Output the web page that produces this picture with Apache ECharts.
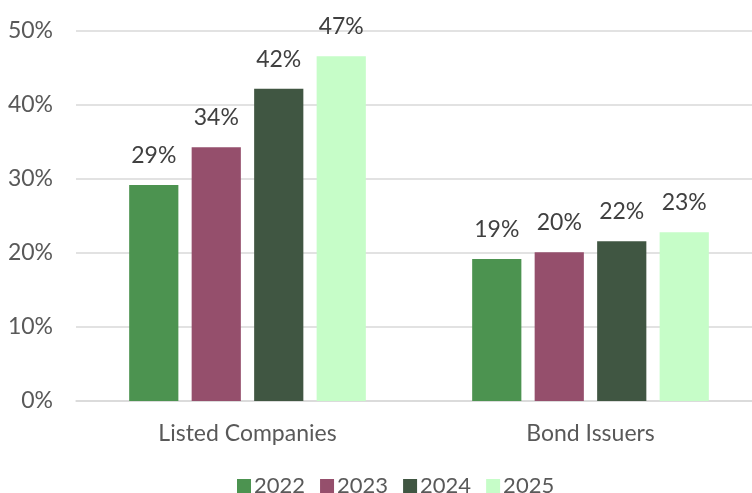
<!DOCTYPE html>
<html>
<head>
<meta charset="utf-8">
<script src="https://cdn.jsdelivr.net/npm/echarts@6/dist/echarts.min.js"></script>
<style>
  html, body { margin: 0; padding: 0; background: #fff; overflow: hidden; }
  #wrap { width: 752px; height: 493px; overflow: hidden; }
  /* plot runs a little past the right edge, so the canvas is wider than the view */
  #chart { width: 762px; height: 493px; }
</style>
</head>
<body>
<div id="wrap"><div id="chart"></div></div>
<script>
// Share of entities by group and year (percent)
const categories = ['Listed Companies', 'Bond Issuers'];
const years = ['2022', '2023', '2024', '2025'];
const values2022 = [29.2, 19.2];
const values2023 = [34.3, 20.1];
const values2024 = [42.2, 21.6];
const values2025 = [46.6, 22.8];
const yTicks = [0, 10, 20, 30, 40, 50];

const colors = ['#4c9350', '#954f6c', '#405642', '#c6fdc8'];
const seriesValues = [values2022, values2023, values2024, values2025];
const FONT = 'Lato';
const FS = 23;

const chart = echarts.init(document.getElementById('chart'), null, { renderer: 'canvas' });

chart.setOption({
  animation: false,
  textStyle: { fontFamily: FONT },
  legend: {
    data: years,
    top: 470,
    left: 232,
    padding: 5,
    itemWidth: 14,
    itemHeight: 14,
    itemGap: 15,
    icon: 'rect',
    textStyle: { fontFamily: FONT, fontSize: 22, color: '#595959', padding: [0, 0, 0, -2] }
  },
  grid: { left: 76, top: 31, right: 0, height: 370, containLabel: false },
  xAxis: {
    type: 'category',
    data: categories,
    axisLine: { show: true, lineStyle: { color: '#d9d9d9', width: 1.5 } },
    axisTick: { show: false },
    axisLabel: { fontFamily: FONT, fontSize: FS, color: '#595959', margin: 21 }
  },
  yAxis: {
    type: 'value',
    min: yTicks[0],
    max: yTicks[yTicks.length - 1],
    interval: 10,
    axisLine: { show: false },
    axisTick: { show: false },
    splitLine: { lineStyle: { color: '#d9d9d9', width: 1.5 } },
    axisLabel: {
      fontFamily: FONT, fontSize: FS, color: '#595959', margin: 23,
      formatter: v => v + '%'
    }
  },
  series: years.map((y, i) => ({
    name: y,
    type: 'bar',
    data: seriesValues[i],
    barGap: '27%',
    barCategoryGap: '31%',
    itemStyle: { color: colors[i] },
    label: {
      show: true,
      position: 'top',
      distance: 18,
      fontFamily: FONT,
      fontSize: FS,
      color: '#404040',
      formatter: p => Math.round(p.value) + '%'
    }
  }))
});
</script>
</body>
</html>
